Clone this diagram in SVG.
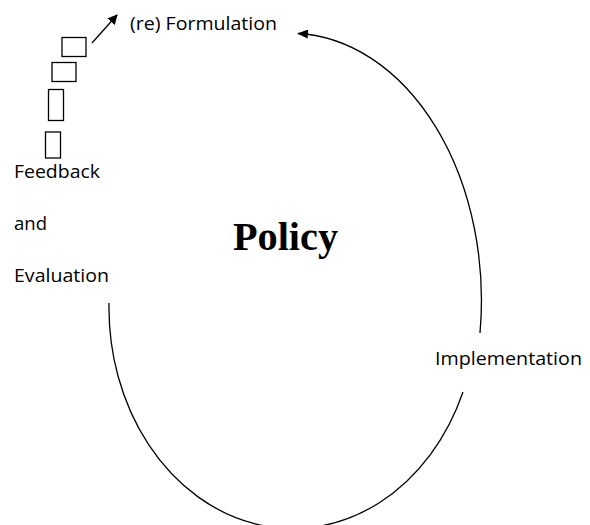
<svg xmlns="http://www.w3.org/2000/svg" width="590" height="525" viewBox="0 0 590 525">
  <style>
    .lbl { font-family: "Open Sans", "Liberation Sans", Arial, sans-serif; font-size: 19px; fill: #000; }
    .title { font-family: "Liberation Serif", "Times New Roman", serif; font-size: 40px; font-weight: bold; fill: #000; }
    .line { fill: none; stroke: #000; stroke-width: 1.3; }
    .box { fill: #fff; stroke: #000; stroke-width: 1.3; }
  </style>
  <defs>
    <marker id="arrow" viewBox="0 0 10 10" refX="9" refY="5" markerWidth="10" markerHeight="10" markerUnits="userSpaceOnUse" orient="auto">
      <path d="M0,0 L10,5 L0,10 Z" fill="#000"/>
    </marker>
    <marker id="arrowBig" viewBox="0 0 12 10" refX="11" refY="5" markerWidth="12" markerHeight="9" markerUnits="userSpaceOnUse" orient="auto">
      <path d="M0,0 L12,5 L0,10 Z" fill="#000"/>
    </marker>
  </defs>

  <rect width="590" height="525" fill="#fff"/>

  <!-- connectors -->
  <g id="connectors">
    <!-- upper arc: implementation back to (re) formulation -->
    <path class="line" d="M 480 333 A 191 267 0 0 0 298 33.5" marker-end="url(#arrowBig)"/>
    <!-- lower arc: evaluation round to implementation -->
    <path class="line" d="M 109 303 A 184 221 0 0 0 463 392"/>
    <!-- short arrow into (re) formulation -->
    <path class="line" d="M 92 43 L 117 15" marker-end="url(#arrow)"/>
  </g>

  <!-- stepping boxes -->
  <g id="steps">
    <rect class="box" x="62" y="37.5" width="24" height="19"/>
    <rect class="box" x="52" y="62.5" width="24" height="19"/>
    <rect class="box" x="48.5" y="89.5" width="15" height="31"/>
    <rect class="box" x="45.5" y="132" width="15" height="26"/>
  </g>

  <g id="formulation">
    <text class="lbl" x="130" y="30" textLength="147" lengthAdjust="spacingAndGlyphs">(re) Formulation</text>
  </g>

  <g id="feedback">
    <text class="lbl" x="14" y="177.5" textLength="86" lengthAdjust="spacingAndGlyphs">Feedback</text>
    <text class="lbl" x="14" y="230" textLength="33" lengthAdjust="spacingAndGlyphs">and</text>
    <text class="lbl" x="14" y="281.5" textLength="95" lengthAdjust="spacingAndGlyphs">Evaluation</text>
  </g>

  <g id="policy">
    <text class="title" x="233" y="250" textLength="105" lengthAdjust="spacingAndGlyphs">Policy</text>
  </g>

  <g id="implementation">
    <text class="lbl" x="435" y="365" textLength="147" lengthAdjust="spacingAndGlyphs">Implementation</text>
  </g>
</svg>
